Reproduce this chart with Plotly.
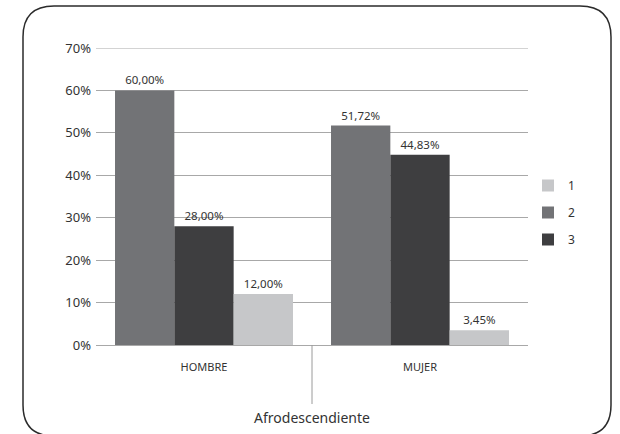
import plotly.graph_objects as go

# Categories and series values (percent)
categories = ["HOMBRE", "MUJER"]
series_names = ["1", "2", "3"]
values_1 = [12.00, 3.45]
values_2 = [60.00, 51.72]
values_3 = [28.00, 44.83]
y_ticks = [0, 10, 20, 30, 40, 50, 60, 70]
x_title = "Afrodescendiente"

W, H = 620, 434
M_L, M_R, M_T, M_B = 96, 92, 48, 89
PW, PH = W - M_L - M_R, H - M_T - M_B

FONT = "Noto Sans"
TEXT_COLOR = "#333333"
GRID = "#a8a8a8"


def label(v):
    return f"{v:.2f}".replace(".", ",") + "%"


def px(x, y):
    """pixel position -> paper coordinates"""
    return (x - M_L) / PW, (H - M_B - y) / PH


# bars are drawn in the order 2, 3, 1 inside each group; legend lists 1, 2, 3
bar_specs = [
    ("2", values_2, "#727376", 2),
    ("3", values_3, "#3e3e40", 3),
    ("1", values_1, "#c6c7c9", 1),
]

fig = go.Figure()
for name, vals, color, rank in bar_specs:
    fig.add_trace(go.Bar(
        x=categories, y=vals, name=name,
        marker=dict(color=color, line=dict(width=0)),
        text=[label(v) for v in vals], textposition="outside",
        textfont=dict(family=FONT, size=11.5, color=TEXT_COLOR),
        cliponaxis=False, legendrank=rank, legendgroup=name,
    ))

# rounded outer frame
x0, x1, y0, y1, r = 23, 611, 6, 436, 31


def P(x, y):
    a, b = px(x, y)
    return f"{a:.5f},{b:.5f}"


path = (
    f"M {P(x0 + r, y0)} L {P(x1 - r, y0)} Q {P(x1, y0)} {P(x1, y0 + r)} "
    f"L {P(x1, y1 - r)} Q {P(x1, y1)} {P(x1 - r, y1)} "
    f"L {P(x0 + r, y1)} Q {P(x0, y1)} {P(x0, y1 - r)} "
    f"L {P(x0, y0 + r)} Q {P(x0, y0)} {P(x0 + r, y0)} Z"
)
fig.add_shape(type="path", xref="paper", yref="paper", path=path,
              line=dict(color="#2b2b2b", width=1.5), layer="below")

# top gridline at 70%
fig.add_shape(type="line", xref="paper", yref="y", x0=0, x1=1, y0=70, y1=70,
              line=dict(color=GRID, width=1), layer="below")

# divider between the two categories below the axis
fig.add_shape(type="line", xref="x", yref="paper", x0=0.5, x1=0.5,
              y0=0, y1=px(0, 404)[1], line=dict(color="#9a9a9a", width=1))

fig.update_layout(
    width=W, height=H,
    margin=dict(l=M_L, r=M_R, t=M_T, b=M_B, autoexpand=False),
    paper_bgcolor="white", plot_bgcolor="white",
    barmode="group", bargap=0.176, bargroupgap=0,
    font=dict(family=FONT, color=TEXT_COLOR),
    showlegend=True,
    legend=dict(
        x=1.0, xanchor="left", y=px(0, 171)[1], yanchor="top",
        traceorder="grouped", tracegroupgap=8,
        font=dict(family=FONT, size=12, color=TEXT_COLOR),
        itemwidth=30, bgcolor="rgba(0,0,0,0)",
    ),
)
fig.update_yaxes(
    range=[0, 70], tickvals=y_ticks, ticktext=[f"{t}%" for t in y_ticks],
    showgrid=True, gridcolor=GRID, gridwidth=1,
    zeroline=True, zerolinecolor=GRID, zerolinewidth=1,
    showline=False, ticks="", ticklabelstandoff=4, automargin=False,
    tickfont=dict(family=FONT, size=13, color=TEXT_COLOR),
)
fig.update_xaxes(
    showgrid=False, showline=False, ticks="", ticklabelstandoff=14,
    automargin=False,
    tickfont=dict(family=FONT, size=11, color=TEXT_COLOR),
    title=dict(text=x_title, standoff=40,
               font=dict(family=FONT, size=14, color=TEXT_COLOR)),
)

fig.write_html("out.html")
